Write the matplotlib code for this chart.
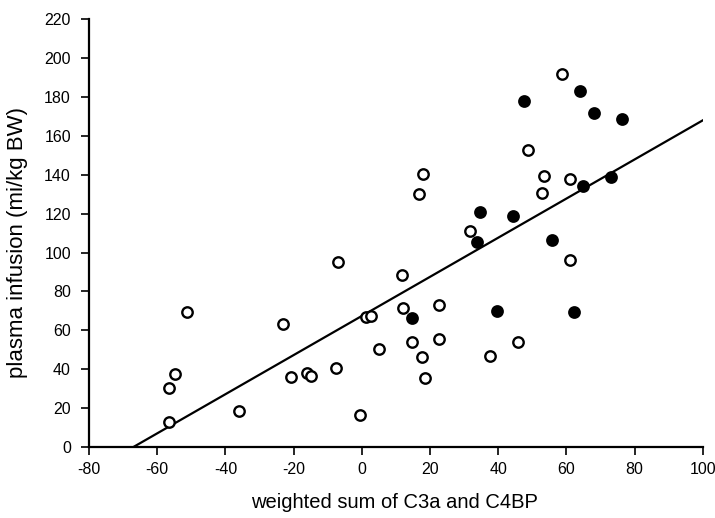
import matplotlib
matplotlib.use("Agg")
import matplotlib.pyplot as plt
import numpy as np

plt.rcParams['font.family'] = ['Liberation Sans', 'DejaVu Sans']
plt.rcParams['axes.unicode_minus'] = False

# open circles
open_x = [-56.6, -56.5, -54.7, -51.3, -35.9, -23.1, -20.8, -16.2, -15.0, -7.1,
          -7.7, -0.5, 11.7, 1.2, 2.8, 5.0, 12.0, 22.6, 14.8, 22.5,
          17.7, 18.6, 37.6, 45.7, 60.9, 58.6, 48.6, 17.9, 16.8, 53.5,
          61.0, 52.7, 31.6]
open_y = [12.7, 30.2, 37.4, 69.4, 18.5, 63.2, 36.0, 38.1, 36.6, 94.9,
          40.5, 16.6, 88.2, 66.8, 67.5, 50.3, 71.4, 73.2, 54.0, 55.6,
          46.2, 35.6, 46.7, 54.0, 96.4, 192.0, 152.7, 140.5, 129.9, 139.6,
          137.8, 130.8, 111.3]

# filled circles
filled_x = [14.6, 39.6, 62.3, 55.7, 33.9, 64.1, 47.5, 68.1, 76.2, 73.1,
            64.9, 34.7, 44.3]
filled_y = [66.2, 70.1, 69.4, 106.2, 105.3, 183.0, 178.1, 171.6, 168.9, 139.0,
            134.0, 121.0, 118.6]

# regression line
slope = 1.006
intercept = 67.4
line_x = [-67.0, 100.0]

fig = plt.figure(figsize=(7.15, 5.18), dpi=100)
ax = fig.add_axes([0.1245, 0.137, 0.8585, 0.826])

lx = np.array(line_x)
ax.plot(lx, slope * lx + intercept, color='black', lw=1.6, zorder=1)

ax.plot(open_x, open_y, 'o', ms=7.5, mfc='white', mec='black', mew=1.7, zorder=2)
ax.plot(filled_x, filled_y, 'o', ms=7.5, mfc='black', mec='black', mew=1.7, zorder=2)

ax.set_xlim(-80, 100)
ax.set_ylim(0, 220)
ax.set_xticks(np.arange(-80, 101, 20))
ax.set_yticks(np.arange(0, 221, 20))

for side in ['top', 'right']:
    ax.spines[side].set_visible(False)
for side in ['left', 'bottom']:
    ax.spines[side].set_linewidth(1.6)

ax.tick_params(direction='out', length=6, width=1.2, labelsize=11.5)
ax.tick_params(axis='x', pad=5)
ax.tick_params(axis='y', pad=7)

ax.set_xlabel('weighted sum of C3a and C4BP', fontsize=14.5)
ax.set_ylabel('plasma infusion (mi/kg BW)', fontsize=16)
ax.xaxis.set_label_coords(0.498, -0.1075)
ax.yaxis.set_label_coords(-0.099, 0.479)

fig.savefig('out.png', dpi=100)
